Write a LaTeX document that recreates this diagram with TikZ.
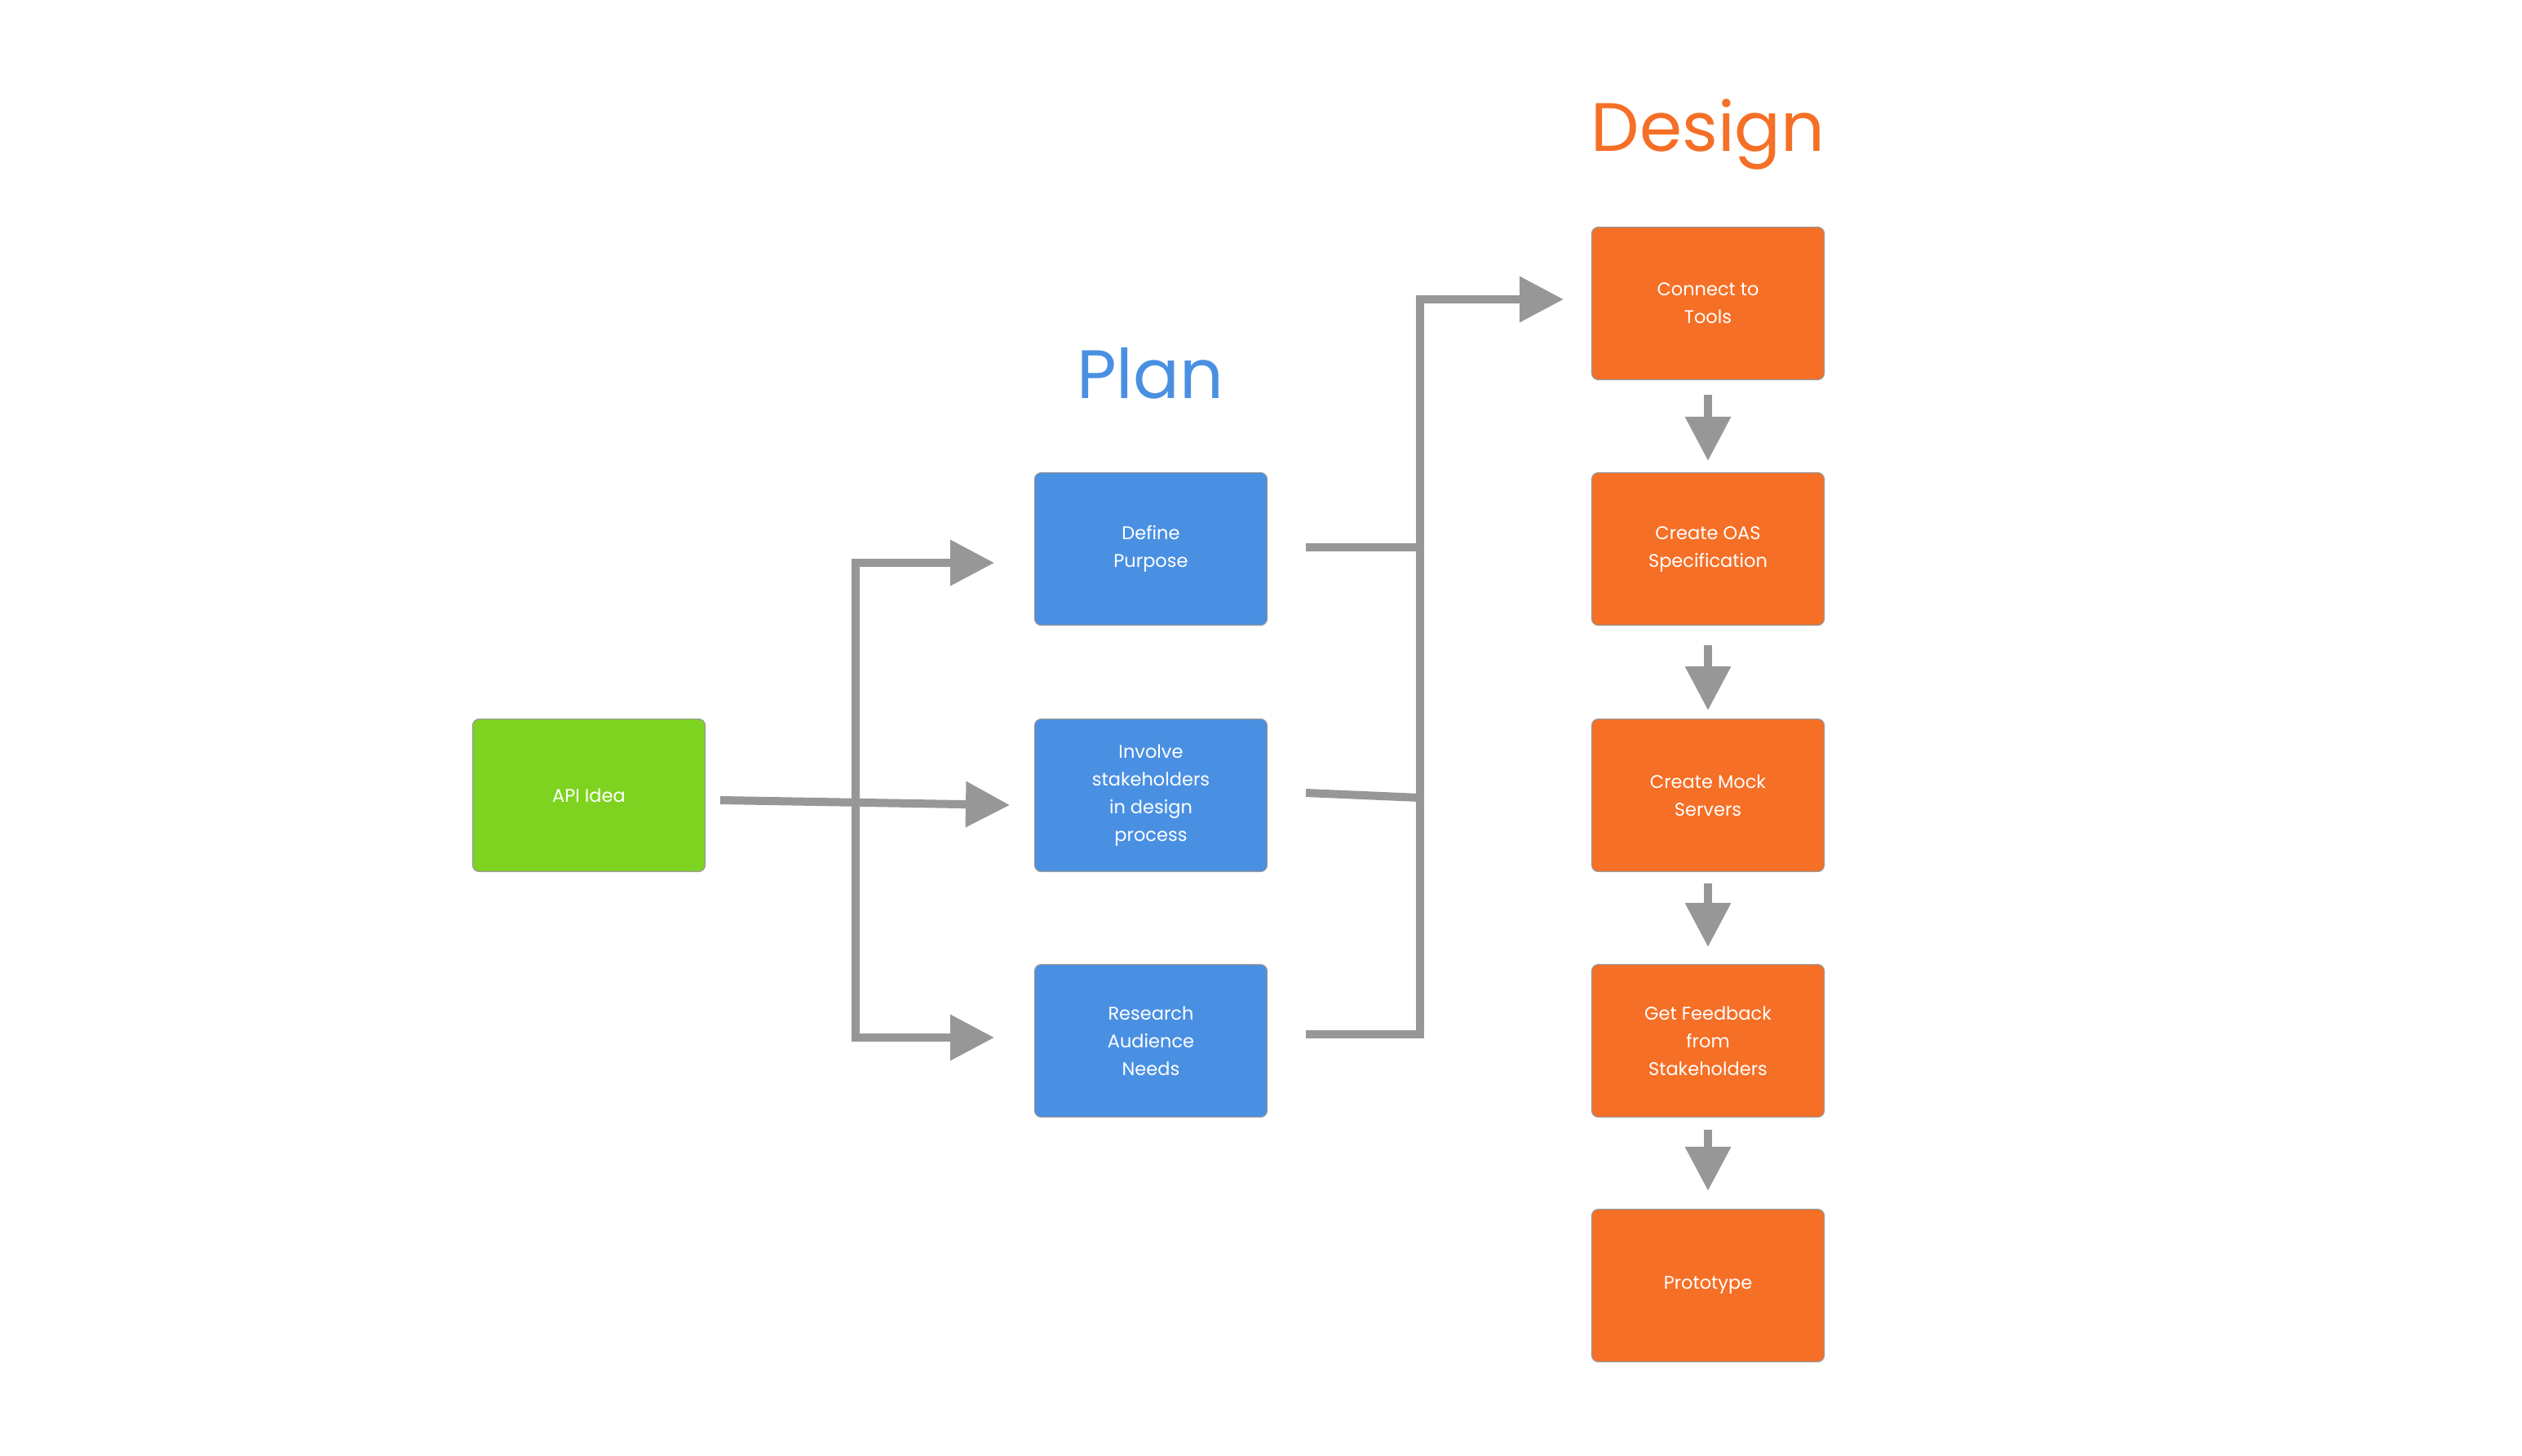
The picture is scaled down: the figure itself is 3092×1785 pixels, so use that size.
\documentclass[tikz,border=0pt]{standalone}
\usepackage{fontspec}
\setmainfont{Poppins}
\usetikzlibrary{arrows.meta}
\definecolor{apigreen}{HTML}{7ED321}
\definecolor{planblue}{HTML}{4A90E2}
\definecolor{designorange}{HTML}{F56F26}
\definecolor{arrowgray}{HTML}{979797}
\tikzset{
  box/.style={rounded corners=8pt, draw=arrowgray, line width=1.2pt,
    minimum width=285pt, minimum height=187pt, inner sep=0pt,
    text=white, align=center, font=\fontsize{22.5}{34}\selectfont},
  greenbox/.style={box, fill=apigreen},
  bluebox/.style={box, fill=planblue},
  orangebox/.style={box, fill=designorange},
  conn/.style={draw=arrowgray, line width=10pt, line join=miter},
  tip/.style={-{Triangle[length=54pt,width=54pt]}},
  title/.style={anchor=base, font=\fontsize{84}{100}\selectfont}
}
\begin{document}
\begin{tikzpicture}[x=1pt,y=-1pt]
\useasboundingbox[fill=white] (0,0) rectangle (3092,1785);

% titles
\node[title, text=planblue] (plan) at (1410,488) {Plan};
\node[title, text=designorange] (design) at (2094,185) {Design};

% boxes
\node[greenbox] (api) at (722,975) {API Idea};
\node[bluebox] (define) at (1411,673) {Define\\Purpose};
\node[bluebox] (involve) at (1411,975) {Involve\\stakeholders\\in design\\process};
\node[bluebox] (research) at (1411,1276) {Research\\Audience\\Needs};
\node[orangebox] (connect) at (2094,372) {Connect to\\Tools};
\node[orangebox] (oas) at (2094,673) {Create OAS\\Specification};
\node[orangebox] (mock) at (2094,975) {Create Mock\\Servers};
\node[orangebox] (feedback) at (2094,1276) {Get Feedback\\from\\Stakeholders};
\node[orangebox] (proto) at (2094,1576) {Prototype};

% left fork
\coordinate (apiout) at (883,981);
\coordinate (involvein) at (1238,987);
\coordinate (defin) at (1219,690);
\coordinate (resin) at (1219,1272);
\coordinate (lfA) at (1049,690);
\coordinate (lfB) at (1049,1272);
\draw[conn, {Triangle[length=54pt,width=54pt]}-{Triangle[length=54pt,width=54pt]}]
  (defin) -- (lfA) -- (lfB) -- (resin);
\draw[conn, tip] (apiout) -- (involvein);

% right merge
\coordinate (defout) at (1601,671);
\coordinate (involveout) at (1601,972);
\coordinate (resout) at (1601,1268);
\coordinate (rmA) at (1741,671);
\coordinate (rmB) at (1741,978);
\coordinate (rmC) at (1741,1268);
\coordinate (rmTop) at (1741,367);
\coordinate (connin) at (1917,367);
\draw[conn] (defout) -- (rmA);
\draw[conn] (involveout) -- (rmB);
\draw[conn, tip] (resout) -- (rmC) -- (rmTop) -- (connin);

% design chain
\draw[conn, tip] ([yshift=-18pt]connect.south) -- ([yshift=14pt]oas.north);
\draw[conn, tip] ([yshift=-24pt]oas.south) -- ([yshift=10pt]mock.north);
\draw[conn, tip] ([yshift=-14pt]mock.south) -- ([yshift=21pt]feedback.north);
\draw[conn, tip] ([yshift=-15pt]feedback.south) -- ([yshift=22pt]proto.north);
\end{tikzpicture}
\end{document}
